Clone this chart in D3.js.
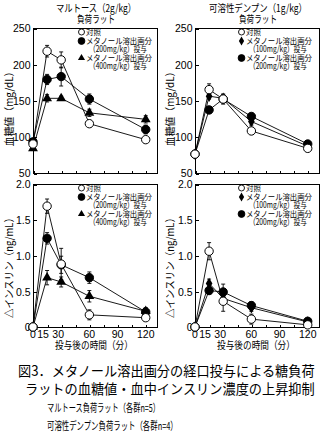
<!DOCTYPE html>
<html><head><meta charset="utf-8">
<script src="https://cdn.jsdelivr.net/npm/d3@7"></script>
<style>body{margin:0;background:#fff} svg{display:block}</style>
</head><body><svg id="c" width="325" height="433"></svg>
<script>
// ---------- data ----------
const times = [0, 15, 30, 60, 120];
const xTicks = [0, 15, 30, 45, 60, 75, 90, 105, 120];
const xTickLabels = [0, 15, 30, 60, 90, 120];
const glucoseTicks = [50, 100, 150, 200, 250];
const insulinTicks = [0, 0.5, 1.0, 1.5, 2.0];
const insulinTickLabels = ["0", "0.5", "1.0", "1.5", "2.0"];

const maltoseTitle = ["マルトース（2g/kg）", "負荷ラット"];
const starchTitle = ["可溶性デンプン（1g/kg）", "負荷ラット"];
const glucoseLabel = "血糖値（mg/dL）";
const insulinLabel = "△インスリン（ng/mL）";
const xLabel = "投与後の時間（分）";

const maltoseLegend = ["対照", "メタノール溶出画分", "（200mg/kg）投与", "メタノール溶出画分", "（400mg/kg）投与"];
const starchLegend = ["対照", "メタノール溶出画分", "（100mg/kg）投与", "メタノール溶出画分", "（200mg/kg）投与"];

// Maltose – blood glucose (mg/dL)
const malGluCtrl = [90, 218, 206, 118, 96];
const malGluCtrlErr = [4, 8, 11, 3, 3];
const malGlu200 = [93, 179, 183, 152, 110];
const malGlu200Err = [4, 7, 13, 7, 6];
const malGlu400 = [84, 153, 153, 133, 124];
const malGlu400Err = [3, 5, 3, 5, 5];

// Starch – blood glucose (mg/dL)
const stGluCtrl = [76, 165, 152, 108, 84];
const stGluCtrlErr = [2, 8, 7, 5, 2];
const stGlu100 = [76, 156, 153, 121, 87];
const stGlu100Err = [2, 4, 5, 5, 2];
const stGlu200 = [76, 137, 152, 128, 90];
const stGlu200Err = [2, 4, 4, 4, 2];

// Maltose – Δinsulin (ng/mL)
const malInsCtrl = [0, 1.69, 0.88, 0.17, 0.13];
const malInsCtrlErr = [0, 0.10, 0.22, 0.07, 0.04];
const malIns200 = [0, 1.24, 0.87, 0.69, 0.21];
const malIns200Err = [0, 0.08, 0.12, 0.08, 0.05];
const malIns400 = [0, 0.69, 0.63, 0.43, 0.22];
const malIns400Err = [0, 0.10, 0.07, 0.08, 0.05];

// Starch – Δinsulin (ng/mL)
const stInsCtrl = [0, 1.06, 0.36, 0.11, 0.03];
const stInsCtrlErr = [0, 0.12, 0.14, 0.07, 0.02];
const stIns100 = [0, 0.61, 0.40, 0.27, 0.07];
const stIns100Err = [0, 0.06, 0.06, 0.05, 0.02];
const stIns200 = [0, 0.51, 0.49, 0.30, 0.08];
const stIns200Err = [0, 0.05, 0.11, 0.05, 0.02];

const caption = [
  "図3．メタノール溶出画分の経口投与による糖負荷",
  "ラットの血糖値・血中インスリン濃度の上昇抑制",
  "マルトース負荷ラット（各群n=5）",
  "可溶性デンプン負荷ラット（各群n=4）"
];

// ---------- drawing ----------
const svg = d3.select("#c");
const JP = "'Noto Sans CJK JP', sans-serif";
const LAT = "'Liberation Sans', Arial, sans-serif";

// text placed at (x,y), font-size set by glyph height, squeezed horizontally to a wanted width
function txt(parent, o) {
  const t = parent.append("text").attr("font-family", o.family || JP).attr("font-size", o.size)
    .attr("text-anchor", o.anchor || "start").attr("dy", o.dy || null).attr("fill", "#000").text(o.text);
  let sx = 1;
  if (o.width) {
    const w = t.node().getComputedTextLength();
    if (w > 0) sx = o.width / w;
  }
  t.attr("transform", `translate(${o.x},${o.y})${o.rotate ? ` rotate(${o.rotate})` : ""} scale(${sx.toFixed(3)},1)`);
  return t;
}

function makeSeries(vals, errs, marker) {
  return times.map((t, i) => ({t, v: vals[i], e: errs[i], marker}));
}

function drawMarker(g, type, cx, cy) {
  if (type === "open" || type === "filled") {
    g.append("circle").attr("cx", cx).attr("cy", cy).attr("r", 4.2)
      .attr("fill", type === "open" ? "#fff" : "#000").attr("stroke", "#000").attr("stroke-width", 1);
  } else {
    const sym = type === "tri" ? d3.symbolTriangle : d3.symbolDiamond;
    const size = type === "tri" ? 42 : 38;
    g.append("path").attr("d", d3.symbol(sym, size)())
      .attr("transform", `translate(${cx},${cy})`).attr("fill", "#000");
  }
}

function panel(cfg) {
  const x = d3.scaleLinear().domain([0, 132]).range([cfg.x0, cfg.x1]);
  const y = d3.scaleLinear().domain(cfg.domain).range([cfg.y1, cfg.y0]);
  const g = svg.append("g");

  g.append("rect").attr("x", cfg.x0 + 0.5).attr("y", cfg.y0 + 0.5)
    .attr("width", cfg.x1 - cfg.x0).attr("height", cfg.y1 - cfg.y0)
    .attr("fill", "none").attr("stroke", "#000").attr("stroke-width", 1)
    .attr("shape-rendering", "crispEdges");

  const xa = g.append("g").attr("transform", `translate(0.5,${cfg.y1 + 0.5})`)
    .call(d3.axisBottom(x).tickValues(xTicks).tickSize(-3).tickFormat(""));
  xa.select(".domain").remove();
  xa.selectAll("line").attr("shape-rendering", "crispEdges");

  const ya = g.append("g").attr("transform", `translate(${cfg.x0 + 0.5},0.5)`)
    .call(d3.axisLeft(y).tickValues(cfg.ticks).tickSize(-3).tickPadding(3)
      .tickFormat((d, i) => cfg.tickLabels[i]));
  ya.select(".domain").remove();
  ya.selectAll("line").attr("shape-rendering", "crispEdges");
  ya.selectAll("text").attr("font-family", LAT).attr("font-size", 10.5).attr("fill", "#000");

  if (cfg.xLabels) {
    const dxMap = {15: -4, 30: -3};
    g.selectAll(".xl").data(xTickLabels).enter().append("text")
      .attr("x", d => x(d) + (dxMap[d] || 0)).attr("y", cfg.y1 + 11)
      .attr("text-anchor", "middle").attr("font-family", LAT).attr("font-size", 10.5)
      .text(d => d);
    txt(g, {x: (cfg.x0 + cfg.x1) / 2 - 1, y: cfg.y1 + 22, anchor: "middle", size: 10.5, text: xLabel, width: 78});
  }

  txt(g, {x: cfg.ylx, y: (cfg.y0 + cfg.y1) / 2 + cfg.ylDy, rotate: -90, anchor: "middle", dy: "0.35em",
    size: 10.5, text: cfg.yLabel, width: cfg.ylLen});

  const line = d3.line().x(d => x(d.t)).y(d => y(d.v));
  cfg.series.forEach(s => {
    g.append("path").datum(s).attr("d", line).attr("fill", "none")
      .attr("stroke", "#000").attr("stroke-width", 0.9);
  });
  cfg.series.forEach(s => {
    s.filter(d => d.e > 0).forEach(d => {
      const cx = x(d.t);
      g.append("line").attr("x1", cx).attr("x2", cx).attr("y1", y(d.v - d.e)).attr("y2", y(d.v + d.e))
        .attr("stroke", "#000").attr("stroke-width", 0.9);
      [d.v - d.e, d.v + d.e].forEach(v => {
        g.append("line").attr("x1", cx - 2).attr("x2", cx + 2).attr("y1", y(v)).attr("y2", y(v))
          .attr("stroke", "#000").attr("stroke-width", 0.9);
      });
    });
  });
  cfg.series.forEach(s => s.forEach(d => drawMarker(g, d.marker, x(d.t), y(d.v))));

  const lg = cfg.legend;
  const rowY = [4, 13, 21.5, 30, 38.5].map(r => cfg.y0 + r);
  lg.labels.forEach((t, i) => {
    const sub = i === 2 || i === 4;
    txt(g, {x: cfg.legX + (sub ? 3 : 0), y: rowY[i], dy: "0.35em", size: 8.3, text: t,
      width: sub ? 58 : (i === 0 ? 15 : 66)});
  });
  lg.markers.forEach((m, k) => {
    const cy = rowY[[0, 1, 3][k]];
    const mx = cfg.legX - 4.5;
    if (m === "open" || m === "filled") {
      g.append("circle").attr("cx", mx).attr("cy", cy).attr("r", m === "open" ? 3 : 3.4)
        .attr("fill", m === "open" ? "#fff" : "#000").attr("stroke", "#000").attr("stroke-width", 0.9);
    } else {
      const sym = m === "tri" ? d3.symbolTriangle : d3.symbolDiamond;
      g.append("path").attr("d", d3.symbol(sym, m === "tri" ? 22 : 24)())
        .attr("transform", `translate(${mx},${cy})`).attr("fill", "#000");
    }
  });

  if (cfg.title) {
    const cxT = (cfg.x0 + cfg.x1) / 2 + 1;
    txt(g, {x: cxT, y: 12, anchor: "middle", size: 10.5, text: cfg.title[0], width: cfg.titleLen});
    txt(g, {x: cxT, y: 22.5, anchor: "middle", size: 10.5, text: cfg.title[1], width: 38});
  }
}

const L = {x0: 33, x1: 157, ylx: 9, legX: 86};
const R = {x0: 195, x1: 319, ylx: 170, legX: 246};
const T = {y0: 28, y1: 173, domain: [50, 250], ticks: glucoseTicks, tickLabels: glucoseTicks.map(String),
  yLabel: glucoseLabel, ylLen: 80, ylDy: 6};
const B = {y0: 184, y1: 327, domain: [0, 2], ticks: insulinTicks, tickLabels: insulinTickLabels,
  yLabel: insulinLabel, ylLen: 105, ylDy: 10, xLabels: true};

panel(Object.assign({}, L, T, {
  title: maltoseTitle, titleLen: 80,
  legend: {labels: maltoseLegend, markers: ["open", "filled", "tri"]},
  series: [makeSeries(malGlu400, malGlu400Err, "tri"), makeSeries(malGlu200, malGlu200Err, "filled"), makeSeries(malGluCtrl, malGluCtrlErr, "open")]
}));
panel(Object.assign({}, R, T, {
  title: starchTitle, titleLen: 98,
  legend: {labels: starchLegend, markers: ["open", "diamond", "filled"]},
  series: [makeSeries(stGlu200, stGlu200Err, "filled"), makeSeries(stGlu100, stGlu100Err, "diamond"), makeSeries(stGluCtrl, stGluCtrlErr, "open")]
}));
panel(Object.assign({}, L, B, {
  legend: {labels: maltoseLegend, markers: ["open", "filled", "tri"]},
  series: [makeSeries(malIns400, malIns400Err, "tri"), makeSeries(malIns200, malIns200Err, "filled"), makeSeries(malInsCtrl, malInsCtrlErr, "open")]
}));
panel(Object.assign({}, R, B, {
  legend: {labels: starchLegend, markers: ["open", "diamond", "filled"]},
  series: [makeSeries(stIns200, stIns200Err, "filled"), makeSeries(stIns100, stIns100Err, "diamond"), makeSeries(stInsCtrl, stInsCtrlErr, "open")]
}));

const capCfg = [
  {x: 18, y: 375.5, size: 14, len: 297},
  {x: 25, y: 393.5, size: 14, len: 290},
  {x: 47, y: 412, size: 11, len: 113},
  {x: 47, y: 429.5, size: 11, len: 131}
];
caption.forEach((t, i) => {
  txt(svg, {x: capCfg[i].x, y: capCfg[i].y, size: capCfg[i].size, text: t, width: capCfg[i].len});
});
</script></body></html>
